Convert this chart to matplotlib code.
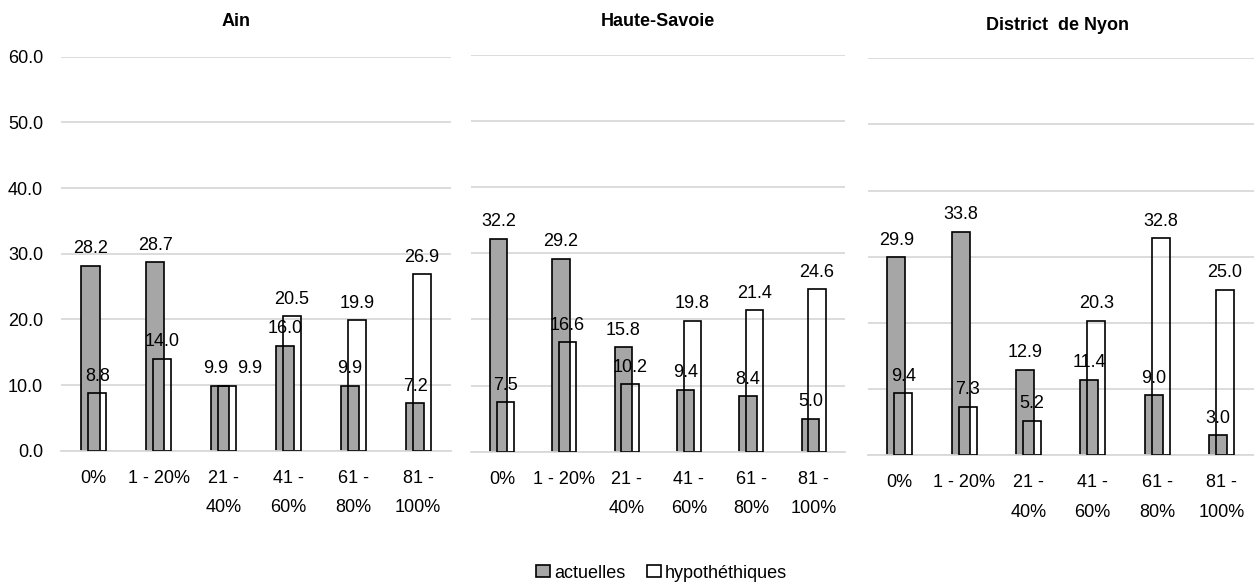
import matplotlib
matplotlib.use('Agg')
import matplotlib.pyplot as plt
from matplotlib.patches import Patch
import numpy as np

# donnees
categories = ['0%', '1 - 20%', '21 -\n40%', '41 -\n60%', '61 -\n80%', '81 -\n100%']
regions = ['Ain', 'Haute-Savoie', 'District  de Nyon']

ain_act = [28.2, 28.7, 9.9, 16.0, 9.9, 7.2]
ain_hyp = [8.8, 14.0, 9.9, 20.5, 19.9, 26.9]
hs_act = [32.2, 29.2, 15.8, 9.4, 8.4, 5.0]
hs_hyp = [7.5, 16.6, 10.2, 19.8, 21.4, 24.6]
nyon_act = [29.9, 33.8, 12.9, 11.4, 9.0, 3.0]
nyon_hyp = [9.4, 7.3, 5.2, 20.3, 32.8, 25.0]

actuelles = [ain_act, hs_act, nyon_act]
hypoth = [ain_hyp, hs_hyp, nyon_hyp]

W, H = 1254, 587
NUM = ['Liberation Sans Narrow', 'Liberation Sans', 'DejaVu Sans']
TXT = ['Liberation Sans', 'DejaVu Sans']
GRID = '#d9d9d9'
GREY = '#a6a6a6'

fig = plt.figure(figsize=(W / 100, H / 100), dpi=100)

# positions des panneaux en pixels: gauche, droite, haut (60), bas (0)
boxes = [(61.3, 450.7, 56.7, 450.7),
         (470.7, 844.7, 55.0, 451.7),
         (867.5, 1253.5, 58.3, 455.0)]
titres_xy = [(236, 21), (658, 22), (1058, 25)]

x = np.arange(len(categories)) + 0.5
bw = 0.28

for i, (l, r, t, b) in enumerate(boxes):
    ax = fig.add_axes([l / W, 1 - b / H, (r - l) / W, (b - t) / H])
    ax.set_xlim(0, 6)
    ax.set_ylim(0, 60)
    ax.set_yticks(np.arange(0, 61, 10))
    ax.grid(axis='y', color=GRID, lw=1.3, zorder=0)
    ax.set_axisbelow(True)
    for s in ['top', 'right', 'left']:
        ax.spines[s].set_visible(False)
    ax.spines['bottom'].set_color(GRID)
    ax.spines['bottom'].set_linewidth(1.3)
    ax.tick_params(length=0)
    ax.tick_params(axis='x', pad=14)
    ax.tick_params(axis='y', pad=13)

    act = actuelles[i]
    hyp = hypoth[i]
    ax.bar(x - 0.05, act, bw, color=GREY, edgecolor='black', lw=1.2, zorder=2)
    ax.bar(x + 0.055, hyp, bw, facecolor='none', edgecolor='black', lw=1.2, zorder=3)

    for xx, v, h in zip(x, act, hyp):
        # etiquettes ecartees quand les deux valeurs se chevauchent
        proche = abs(v - h) < 1.5
        ax.annotate('%.1f' % v, (xx - 0.05, v), xytext=(-3 if proche else 0, 6),
                    textcoords='offset points', ha='center', va='bottom',
                    fontsize=13, family=NUM, zorder=4)
        ax.annotate('%.1f' % h, (xx + 0.055, h), xytext=(16 if proche else 0, 6),
                    textcoords='offset points', ha='center', va='bottom',
                    fontsize=13, family=NUM, zorder=4)

    ax.set_xticks(x)
    ax.set_xticklabels(categories, fontsize=13, family=NUM)
    for lbl in ax.get_xticklabels():
        lbl.set_linespacing(1.95)
    if i == 0:
        ax.set_yticklabels(['%.1f' % v for v in np.arange(0, 61, 10)], fontsize=13, family=NUM)
    else:
        ax.set_yticklabels([])

    tx, ty = titres_xy[i]
    fig.text(tx / W, 1 - ty / H, regions[i], ha='center', va='center',
             fontsize=13, fontweight='bold', family=TXT)

handles = [Patch(facecolor=GREY, edgecolor='black', lw=1.2, label='actuelles'),
           Patch(facecolor='white', edgecolor='black', lw=1.2, label='hypothéthiques')]
fig.legend(handles=handles, loc='center', bbox_to_anchor=(661.5 / W, 1 - 573 / H),
           ncol=2, frameon=False, prop={'family': TXT, 'size': 13},
           handlelength=0.8, handleheight=0.65, handletextpad=0.2, columnspacing=1.2)

fig.savefig('out.png', dpi=100)
